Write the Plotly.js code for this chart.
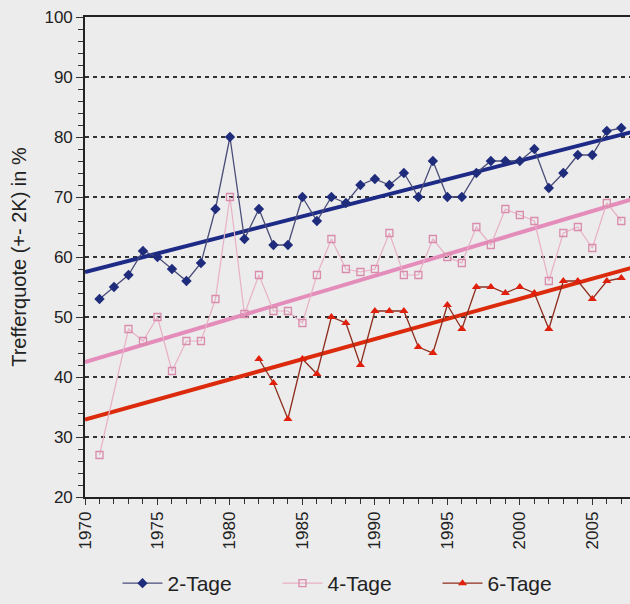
<!DOCTYPE html>
<html>
<head>
<meta charset="utf-8">
<script src="https://cdn.plot.ly/plotly-3.0.1.min.js"></script>
<style>html,body{margin:0;padding:0;background:#ececec;}#chart{width:630px;height:604px;}</style>
</head>
<body>
<div id="chart"></div>
<script>
const years = [1971,1972,1973,1974,1975,1976,1977,1978,1979,1980,1981,1982,1983,1984,1985,1986,1987,1988,1989,1990,1991,1992,1993,1994,1995,1996,1997,1998,1999,2000,2001,2002,2003,2004,2005,2006,2007];
const tage2 = [53,55,57,61,60,58,56,59,68,80,63,68,62,62,70,66,70,69,72,73,72,74,70,76,70,70,74,76,76,76,78,71.5,74,77,77,81,81.5];
const tage4 = [27,null,48,46,50,41,46,46,53,70,50.5,57,51,51,49,57,63,58,57.5,58,64,57,57,63,60,59,65,62,68,67,66,56,64,65,61.5,69,66];
const tage6 = [null,null,null,null,null,null,null,null,null,null,null,43,39,33,43,40.5,50,49,42,51,51,51,45,44,52,48,55,55,54,55,54,48,56,56,53,56,56.5];
const trendYears = [1970,2008];
const trend2 = [57.5,81.0];
const trend4 = [42.5,69.8];
const trend6 = [32.9,58.4];
const seriesNames = ['2-Tage','4-Tage','6-Tage'];
const xTicks = [1970,1975,1980,1985,1990,1995,2000,2005];
const yTicks = [20,30,40,50,60,70,80,90,100];

const traces = [
  {x: trendYears, y: trend2, mode:'lines', line:{color:'#1d2a86', width:4}, showlegend:false, hoverinfo:'skip'},
  {x: trendYears, y: trend4, mode:'lines', line:{color:'#e48cba', width:4}, showlegend:false, hoverinfo:'skip'},
  {x: trendYears, y: trend6, mode:'lines', line:{color:'#dc2a0c', width:4}, showlegend:false, hoverinfo:'skip'},
  {x: years, y: tage2, name: seriesNames[0], mode:'lines+markers', connectgaps:true,
   line:{color:'#4a4d78', width:1.3}, marker:{symbol:'diamond', size:8, color:'#1f2c7c'}},
  {x: years, y: tage4, name: seriesNames[1], mode:'lines+markers', connectgaps:true,
   line:{color:'#e8b0c6', width:1.2}, marker:{symbol:'square-open', size:7, color:'#d98cab', line:{width:1.3}}},
  {x: years, y: tage6, name: seriesNames[2], mode:'lines+markers', connectgaps:false,
   line:{color:'#8e2e1e', width:1.3}, marker:{symbol:'triangle-up', size:8, color:'#e0200c'}}
];

const layout = {
  width:630, height:604,
  paper_bgcolor:'#ececec', plot_bgcolor:'#ececec',
  margin:{l:85, r:0, t:17, b:106},
  font:{family:'Arial, Liberation Sans, sans-serif', color:'#222'},
  xaxis:{
    range:[1970, 2007.6], tickvals:xTicks, ticktext:xTicks.map(String), tickangle:-90,
    tickfont:{size:17, color:'#222'}, ticks:'outside', ticklen:6, tickcolor:'#333',
    minor:{dtick:1, tick0:1970, ticks:'outside', ticklen:5, tickcolor:'#333', showgrid:false},
    showgrid:false, zeroline:false, showline:true, linecolor:'#222', linewidth:1.8, mirror:true
  },
  yaxis:{
    range:[20,100], tickvals:yTicks, ticktext:yTicks.map(String),
    tickfont:{size:17, color:'#222'}, ticks:'outside', ticklen:7, tickcolor:'#333',
    minor:{dtick:2, tick0:20, ticks:'outside', ticklen:5, tickcolor:'#333', showgrid:false},
    showgrid:true, gridcolor:'#333', gridwidth:2.2, griddash:'4px,4px',
    zeroline:false, showline:true, linecolor:'#222', linewidth:1.8,
    title:{text:'Trefferquote (+- 2K) in %', font:{size:20, color:'#222'}, standoff:12}
  },
  legend:{orientation:'h', x:0.5, xanchor:'center', y:-0.18, yanchor:'middle',
    font:{size:21, color:'#222'}, bgcolor:'rgba(0,0,0,0)', entrywidth:105, itemwidth:40},
  showlegend:true
};

Plotly.newPlot('chart', traces, layout, {displayModeBar:false, staticPlot:true});
</script>
</body>
</html>
